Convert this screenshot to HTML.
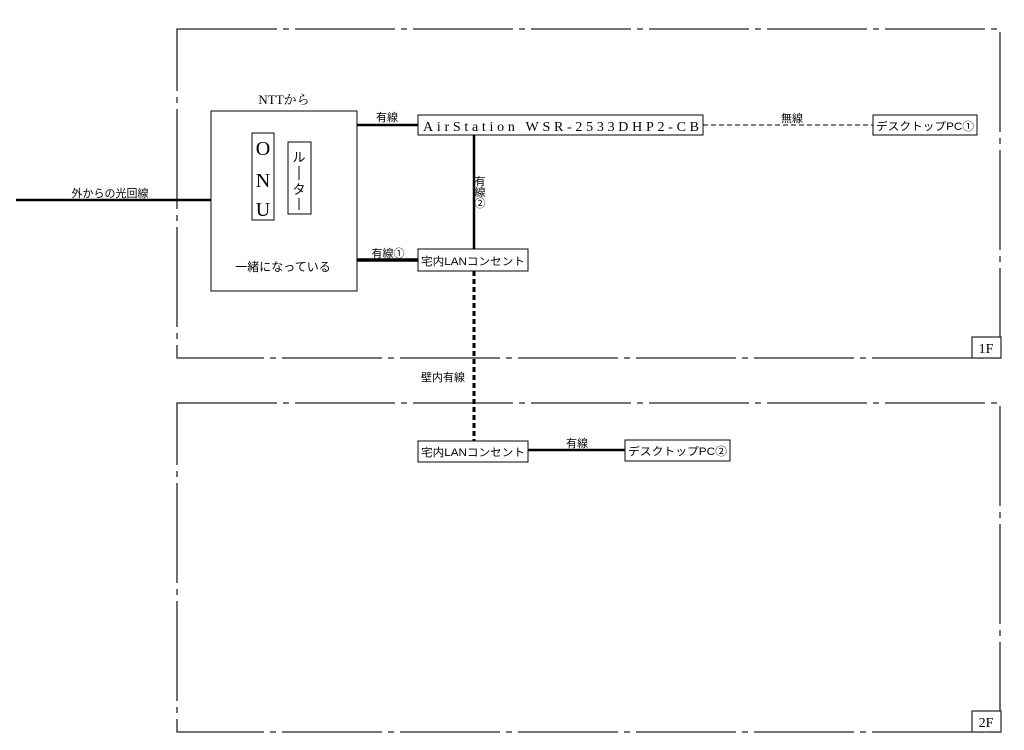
<!DOCTYPE html>
<html><head><meta charset="utf-8"><style>
body{margin:0;background:#fff}
svg{display:block}
text{font-family:"Liberation Serif","Noto Serif CJK SC",serif;fill:#000}
.s{font-family:"Liberation Sans","Noto Sans CJK JP",sans-serif}
</style></head><body>
<svg width="1024" height="750" viewBox="0 0 1024 750" xmlns="http://www.w3.org/2000/svg">
<g fill="none" stroke="#222" stroke-width="1.3" stroke-dasharray="100,6,6,6">
<rect x="177" y="29" width="823" height="329"/>
<rect x="177" y="403" width="823" height="329"/>
</g>
<g fill="#fff" stroke="#222" stroke-width="1.2">
<rect x="972" y="337" width="29" height="21"/>
<rect x="972" y="711" width="29" height="21"/>
</g>
<text x="986" y="353" font-size="14" text-anchor="middle">1F</text>
<text x="986" y="727" font-size="14" text-anchor="middle">2F</text>

<g stroke="#000" fill="none">
<line x1="16" y1="200" x2="211" y2="200" stroke-width="2.5"/>
<line x1="357" y1="125" x2="418" y2="125" stroke-width="2.5"/>
<line x1="357" y1="260" x2="418" y2="260" stroke-width="3.5"/>
<line x1="474" y1="135" x2="474" y2="249" stroke-width="2.5"/>
<line x1="474" y1="271" x2="474" y2="441" stroke-width="3" stroke-dasharray="5,3"/>
<line x1="528" y1="450" x2="625" y2="450" stroke-width="2.5"/>
<line x1="703" y1="125" x2="873" y2="125" stroke-width="1" stroke-dasharray="5,3"/>
</g>

<g fill="#fff" stroke="#000" stroke-width="1">
<rect x="211" y="111" width="146" height="180"/>
<rect x="252" y="133" width="22" height="87"/>
<rect x="288" y="142" width="23" height="72"/>
<rect x="418" y="115" width="285" height="20"/>
<rect x="418" y="249" width="110" height="22"/>
<rect x="873" y="115" width="104" height="20"/>
<rect x="418" y="441" width="110" height="21"/>
<rect x="625" y="440" width="105" height="21"/>
</g>

<text x="284" y="104" font-size="13" text-anchor="middle">NTTから</text>
<text x="263" y="155" font-size="20" text-anchor="middle">O</text>
<text x="263" y="187" font-size="20" text-anchor="middle">N</text>
<text x="263" y="216" font-size="20" text-anchor="middle">U</text>
<text class="s" font-size="13" text-anchor="middle" x="299" y="162">ル</text>
<line x1="299" y1="166" x2="299" y2="180" stroke="#000" stroke-width="1"/>
<text class="s" font-size="13" text-anchor="middle" x="299" y="194">タ</text>
<line x1="299" y1="198" x2="299" y2="210" stroke="#000" stroke-width="1"/>
<text class="s" x="283" y="271" font-size="12" text-anchor="middle">一緒になっている</text>

<text class="s" x="110" y="197" font-size="11" text-anchor="middle">外からの光回線</text>
<text class="s" x="387" y="121" font-size="11" text-anchor="middle">有線</text>
<text class="s" x="388" y="257" font-size="11" text-anchor="middle">有線①</text>
<text class="s" x="480" y="185" font-size="11" text-anchor="middle">有</text>
<text class="s" x="480" y="196" font-size="11" text-anchor="middle">線</text>
<text class="s" x="480" y="207" font-size="11" text-anchor="middle">②</text>
<text class="s" x="443" y="381" font-size="11" text-anchor="middle">壁内有線</text>
<text class="s" x="792" y="122" font-size="11" text-anchor="middle">無線</text>
<text class="s" x="577" y="447" font-size="11" text-anchor="middle">有線</text>

<text x="423" y="131" font-size="14" textLength="276" lengthAdjust="spacing">AirStation WSR-2533DHP2-CB</text>
<text class="s" x="421" y="265" font-size="11" textLength="104" lengthAdjust="spacingAndGlyphs">宅内LANコンセント</text>
<text class="s" x="421" y="456" font-size="11" textLength="104" lengthAdjust="spacingAndGlyphs">宅内LANコンセント</text>
<text class="s" x="876" y="130" font-size="11" textLength="98" lengthAdjust="spacingAndGlyphs">デスクトップPC①</text>
<text class="s" x="628" y="455" font-size="11" textLength="99" lengthAdjust="spacingAndGlyphs">デスクトップPC②</text>
</svg>
</body></html>
